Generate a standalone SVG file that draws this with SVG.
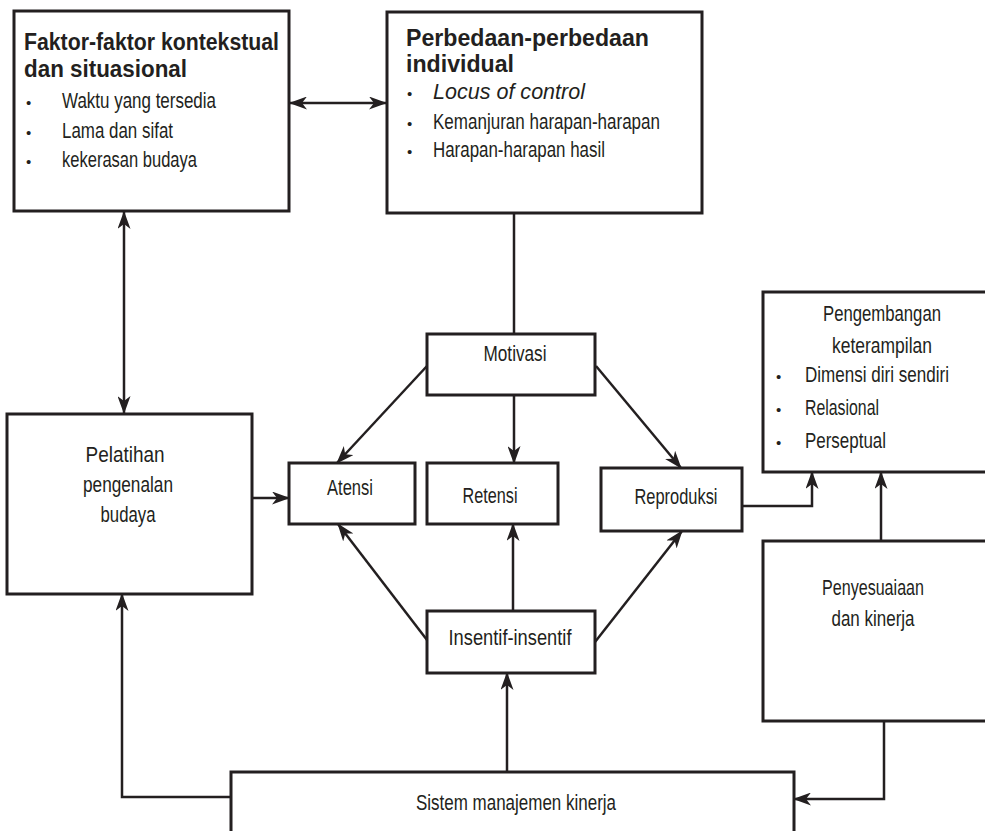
<svg xmlns="http://www.w3.org/2000/svg" width="985" height="831" viewBox="0 0 985 831">
  <defs>
    <style>
      .box { fill: #ffffff; stroke: #231f20; stroke-width: 3; }
      .ln { fill: none; stroke: #231f20; stroke-width: 2.5; }
      .arr { marker-end: url(#head); }
      .dbl { marker-start: url(#head); marker-end: url(#head); }
      text { font-family: "Liberation Sans", Arial, sans-serif; fill: #231f20; font-size: 22px; }
      .ttl { font-weight: bold; font-size: 23px; }
      .it { font-style: italic; }
      .c { text-anchor: middle; }
      .bul { font-size: 15px; }
    </style>
    <marker id="head" viewBox="0 0 18 13" markerWidth="18" markerHeight="13" refX="17" refY="6.5" orient="auto-start-reverse" markerUnits="userSpaceOnUse">
      <path d="M0,0 L18,6.5 L0,13 L5,6.5 z" fill="#231f20"/>
    </marker>
  </defs>

  <rect width="985" height="831" fill="#ffffff"/>

  <!-- connectors -->
  <g id="connectors">
    <line class="ln dbl" x1="290" y1="103" x2="386" y2="103"/>
    <line class="ln dbl" x1="124" y1="212" x2="124" y2="413"/>
    <line class="ln" x1="514" y1="213" x2="514" y2="334"/>
    <line class="ln arr" x1="427" y1="366" x2="337" y2="463"/>
    <line class="ln arr" x1="514" y1="395" x2="514" y2="463"/>
    <line class="ln arr" x1="596" y1="366" x2="681" y2="468"/>
    <line class="ln arr" x1="252" y1="498" x2="289" y2="498"/>
    <line class="ln arr" x1="427" y1="640" x2="338" y2="524"/>
    <line class="ln arr" x1="513" y1="611" x2="513" y2="524"/>
    <line class="ln arr" x1="595" y1="642" x2="682" y2="531"/>
    <line class="ln arr" x1="507" y1="772" x2="507" y2="673"/>
    <path class="ln arr" d="M231,797 H122 V594"/>
    <path class="ln arr" d="M884,721 V799 H794"/>
    <path class="ln arr" d="M742,506 H812 V472"/>
    <line class="ln arr" x1="881" y1="541" x2="881" y2="472"/>
  </g>

  <g id="faktor">
    <rect class="box" x="14" y="11" width="275" height="200"/>
    <text class="ttl" x="24" y="50" textLength="255" lengthAdjust="spacingAndGlyphs">Faktor-faktor kontekstual</text>
    <text class="ttl" x="24" y="77" textLength="163" lengthAdjust="spacingAndGlyphs">dan situasional</text>
    <text class="bul" x="26" y="108">•</text>
    <text x="62" y="108" textLength="154" lengthAdjust="spacingAndGlyphs">Waktu yang tersedia</text>
    <text class="bul" x="26" y="138">•</text>
    <text x="62" y="138" textLength="111" lengthAdjust="spacingAndGlyphs">Lama dan sifat</text>
    <text class="bul" x="26" y="167">•</text>
    <text x="62" y="167" textLength="135" lengthAdjust="spacingAndGlyphs">kekerasan budaya</text>
  </g>

  <g id="perbedaan">
    <rect class="box" x="387" y="12" width="315" height="201"/>
    <text class="ttl" x="406" y="46" textLength="243" lengthAdjust="spacingAndGlyphs">Perbedaan-perbedaan</text>
    <text class="ttl" x="406" y="72" textLength="108" lengthAdjust="spacingAndGlyphs">individual</text>
    <text class="bul" x="407" y="99">•</text>
    <text class="it" x="433" y="99" textLength="152" lengthAdjust="spacingAndGlyphs">Locus of control</text>
    <text class="bul" x="407" y="129">•</text>
    <text x="433" y="129" textLength="227" lengthAdjust="spacingAndGlyphs">Kemanjuran harapan-harapan</text>
    <text class="bul" x="407" y="157">•</text>
    <text x="433" y="157" textLength="172" lengthAdjust="spacingAndGlyphs">Harapan-harapan hasil</text>
  </g>

  <g id="pelatihan">
    <rect class="box" x="7" y="414" width="245" height="180"/>
    <text class="c" x="125" y="462" textLength="79" lengthAdjust="spacingAndGlyphs">Pelatihan</text>
    <text class="c" x="128" y="492" textLength="90" lengthAdjust="spacingAndGlyphs">pengenalan</text>
    <text class="c" x="128" y="522" textLength="55" lengthAdjust="spacingAndGlyphs">budaya</text>
  </g>

  <g id="motivasi">
    <rect class="box" x="427" y="334" width="168" height="61"/>
    <text class="c" x="515" y="361" textLength="63" lengthAdjust="spacingAndGlyphs">Motivasi</text>
  </g>

  <g id="atensi">
    <rect class="box" x="289" y="463" width="126" height="61"/>
    <text class="c" x="350" y="495" textLength="46" lengthAdjust="spacingAndGlyphs">Atensi</text>
  </g>

  <g id="retensi">
    <rect class="box" x="427" y="463" width="131" height="61"/>
    <text class="c" x="490" y="503" textLength="55" lengthAdjust="spacingAndGlyphs">Retensi</text>
  </g>

  <g id="reproduksi">
    <rect class="box" x="601" y="468" width="141" height="63"/>
    <text class="c" x="676" y="504" textLength="83" lengthAdjust="spacingAndGlyphs">Reproduksi</text>
  </g>

  <g id="insentif">
    <rect class="box" x="427" y="611" width="168" height="62"/>
    <text class="c" x="510" y="645" textLength="123" lengthAdjust="spacingAndGlyphs">Insentif-insentif</text>
  </g>

  <g id="pengembangan">
    <rect class="box" x="763" y="292" width="240" height="180"/>
    <text class="c" x="882" y="321" textLength="118" lengthAdjust="spacingAndGlyphs">Pengembangan</text>
    <text class="c" x="882" y="353" textLength="100" lengthAdjust="spacingAndGlyphs">keterampilan</text>
    <text class="bul" x="776" y="382">•</text>
    <text x="805" y="382" textLength="144" lengthAdjust="spacingAndGlyphs">Dimensi diri sendiri</text>
    <text class="bul" x="776" y="415">•</text>
    <text x="805" y="415" textLength="74" lengthAdjust="spacingAndGlyphs">Relasional</text>
    <text class="bul" x="776" y="448">•</text>
    <text x="805" y="448" textLength="81" lengthAdjust="spacingAndGlyphs">Perseptual</text>
  </g>

  <g id="penyesuaian">
    <rect class="box" x="763" y="541" width="240" height="180"/>
    <text class="c" x="873" y="595" textLength="102" lengthAdjust="spacingAndGlyphs">Penyesuaiaan</text>
    <text class="c" x="873" y="626" textLength="83" lengthAdjust="spacingAndGlyphs">dan kinerja</text>
  </g>

  <g id="sistem">
    <rect class="box" x="231" y="772" width="563" height="80"/>
    <text class="c" x="516" y="810" textLength="200" lengthAdjust="spacingAndGlyphs">Sistem manajemen kinerja</text>
  </g>
</svg>
